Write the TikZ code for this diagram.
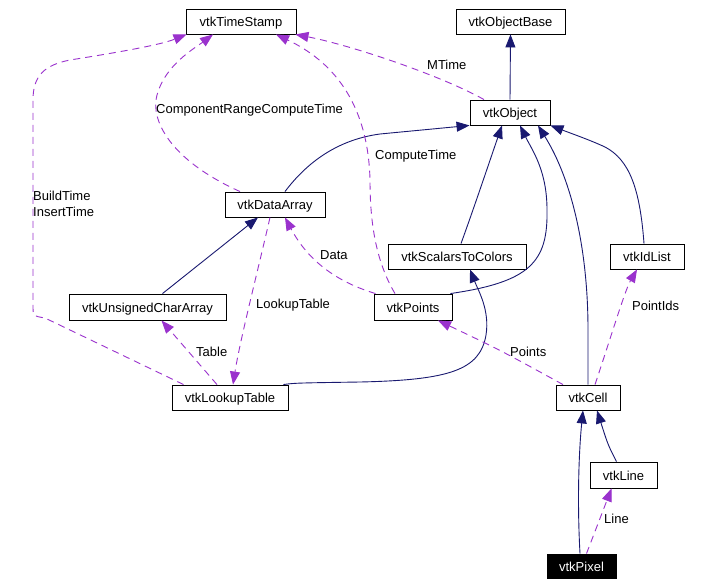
\documentclass[tikz,border=0pt]{standalone}
\usepackage{fontspec}
\setmainfont{Liberation Sans}
\usetikzlibrary{arrows.meta}
\definecolor{inh}{HTML}{191970}
\definecolor{use}{HTML}{9A32CD}
\begin{document}
\begin{tikzpicture}[x=1pt,y=-1pt,
  cls/.style={draw=black,line width=0.9pt,fill=white,inner sep=0pt,text height=10pt,text depth=0pt,font=\fontsize{13}{15}\selectfont},
  inhline/.style={draw=inh,line width=0.9pt,-{Triangle[length=13pt,width=10pt]}},
  useline/.style={draw=use,line width=0.9pt,dash pattern=on 7pt off 5pt,-{Triangle[length=13pt,width=10pt]}},
  lbl/.style={anchor=west,inner sep=0pt,font=\fontsize{13}{16}\selectfont,align=left}]
\useasboundingbox (0,0) rectangle (706,586);
\fill[white] (0,0) rectangle (706,586);
% nodes
\node[cls,minimum width=110pt,minimum height=25pt] (ts) at (241,21.5) {vtkTimeStamp};
\node[cls,minimum width=109pt,minimum height=25pt] (ob) at (510.5,21.5) {vtkObjectBase};
\node[cls,minimum width=80pt,minimum height=25pt] (obj) at (510,112.5) {vtkObject};
\node[cls,minimum width=100pt,minimum height=25pt] (da) at (275,204.5) {vtkDataArray};
\node[cls,minimum width=157pt,minimum height=26pt] (uca) at (147.5,307) {vtkUnsignedCharArray};
\node[cls,minimum width=116pt,minimum height=25pt] (lt) at (230,397.5) {vtkLookupTable};
\node[cls,minimum width=138pt,minimum height=25pt] (stc) at (457,256.5) {vtkScalarsToColors};
\node[cls,minimum width=78pt,minimum height=26pt] (pts) at (413,307) {vtkPoints};
\node[cls,minimum width=74pt,minimum height=25pt] (idl) at (647,256.5) {vtkIdList};
\node[cls,minimum width=64pt,minimum height=25pt] (cell) at (588,397.5) {vtkCell};
\node[cls,minimum width=67pt,minimum height=26pt] (line) at (623.5,475) {vtkLine};
\node[cls,fill=black,text=white,minimum width=69pt,minimum height=24pt] (pix) at (581.5,566) {vtkPixel};
% inheritance
\draw[inhline] (obj.north) -- (ob.south);
\draw[inhline] ([xshift=10pt]da.north) .. controls (305,165) and (335,140) .. (380,134) -- (obj.south west);
\draw[inhline] ([xshift=4pt]stc.north) .. controls (475,205) and (490,160) .. ([xshift=-8pt]obj.south);
\draw[inhline] ([xshift=-2pt]pts.north east) .. controls (530,282) and (548,262) .. (547,210) .. controls (547,170) and (532,150) .. ([xshift=10pt]obj.south);
\draw[inhline] (cell.north) -- (588,330) .. controls (588,250) and (572,180) .. ([xshift=28pt]obj.south);
\draw[inhline] ([xshift=-3pt]idl.north) .. controls (640,190) and (630,160) .. (605,147) .. controls (590,140) and (570,133) .. (obj.south east);
\draw[inhline] ([xshift=15pt]uca.north) -- ([xshift=-17pt]da.south);
\draw[inhline] ([xshift=-5pt]lt.north east) .. controls (295,383) .. (360,382) .. controls (450,380) and (480,370) .. (486,335) .. controls (490,310) and (478,290) .. ([xshift=13pt]stc.south);
\draw[inhline] ([xshift=-7pt]line.north) .. controls (608,445) .. ([xshift=9pt]cell.south);
\draw[inhline] ([xshift=-1.5pt]pix.north) .. controls (577,500) and (579,450) .. ([xshift=-5pt]cell.south);
% usage
\draw[useline] ([xshift=-35pt]da.north) .. controls (170,160) and (150,120) .. (157,95) .. controls (165,65) and (195,48) .. ([xshift=-28pt]ts.south);
\node[lbl] (l1) at (156,110) {ComponentRangeComputeTime};
\draw[useline] ([xshift=12pt]lt.north west) -- (45,318) .. controls (33,316) .. (33,305) -- (33,100) .. controls (33,75) and (45,65) .. (70,60) .. controls (120,52) and (160,45) .. ([xshift=1pt]ts.south west);
\node[lbl] (l2) at (33,204) {BuildTime\\InsertTime};
\draw[useline] ([xshift=-18pt]pts.north) .. controls (375,260) and (370,220) .. (370,180) .. controls (368,100) and (330,60) .. ([xshift=35pt]ts.south);
\node[lbl] (l3) at (375,156) {ComputeTime};
\draw[useline] ([xshift=-26pt]obj.north) .. controls (440,75) and (350,45) .. ([xshift=-1pt]ts.south east);
\node[lbl] (l4) at (427,65) {MTime};
\draw[useline] ([xshift=2pt]pts.north west) .. controls (330,280) and (305,255) .. ([xshift=10pt]da.south);
\node[lbl] (l5) at (320,255) {Data};
\draw[useline] ([xshift=-5pt]da.south) .. controls (258,270) and (240,340) .. ([xshift=3pt]lt.north);
\node[lbl] (l6) at (256,305) {LookupTable};
\draw[useline] ([xshift=-13pt]lt.north) -- ([xshift=14pt]uca.south);
\node[lbl] (l7) at (196,352) {Table};
\draw[useline] ([xshift=-25pt]cell.north) .. controls (500,350) .. ([xshift=25pt]pts.south);
\node[lbl] (l8) at (510,352) {Points};
\draw[useline] ([xshift=7pt]cell.north) .. controls (610,340) and (625,290) .. ([xshift=-10pt]idl.south);
\node[lbl] (l9) at (632,306) {PointIds};
\draw[useline] ([xshift=5pt]pix.north) -- ([xshift=-12pt]line.south);
\node[lbl] (l10) at (604,519) {Line};
\end{tikzpicture}
\end{document}
